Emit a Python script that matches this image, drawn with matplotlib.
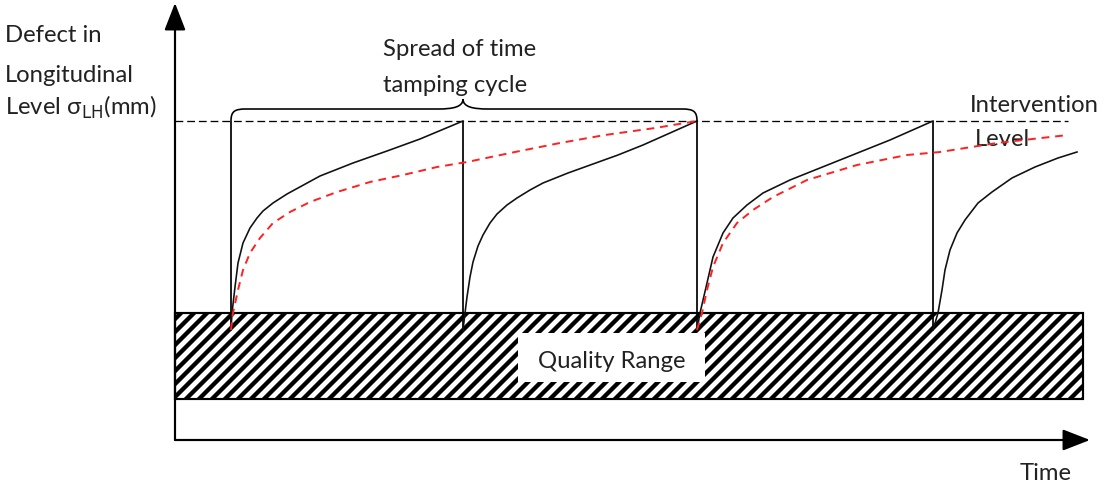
import matplotlib
matplotlib.use("Agg")
import matplotlib.pyplot as plt
from matplotlib.patches import Rectangle, PathPatch
from matplotlib.path import Path

# time measured from the vertical axis, defect level measured from the time axis
tamping_times = [56, 288, 522, 758]
intervention_level = 319
reset_level = 110
quality_low, quality_high = 41, 127
time_end = 908

# black curves: deterioration after each tamping
black_t = [
    [56, 57, 60, 63, 68, 75, 82, 88, 98, 112, 145, 178, 212, 245, 288],
    [288, 290, 292, 295, 298, 303, 308, 315, 322, 332, 342, 355, 368, 393, 418, 443, 468, 495, 522],
    [522, 525, 532, 538, 548, 558, 572, 588, 615, 665, 715, 758],
    [758, 763, 767, 770, 775, 782, 790, 803, 817, 837, 860, 883, 902],
]
black_lvl = [
    [110, 127, 153, 177, 197, 212, 222, 229, 237, 246, 264, 277, 289, 301, 319],
    [110, 127, 143, 163, 178, 194, 205, 217, 226, 235, 242, 250, 257, 267, 276, 285, 295, 307, 319],
    [110, 127, 157, 183, 207, 222, 235, 247, 260, 280, 300, 319],
    [110, 127, 150, 170, 190, 207, 220, 237, 248, 262, 273, 282, 288],
]

# red dashed curves: slower deterioration
red_t = [
    [56, 58, 63, 68, 75, 85, 98, 115, 135, 162, 195, 228, 262, 292, 340, 385, 430, 480, 522],
    [522, 527, 532, 538, 548, 562, 578, 598, 632, 682, 732, 765, 822, 893],
]
red_lvl = [
    [110, 127, 150, 170, 187, 202, 217, 228, 238, 248, 258, 265, 273, 278, 288, 297, 305, 312, 319],
    [110, 127, 150, 173, 197, 217, 230, 243, 260, 275, 285, 288, 297, 305],
]

DPI = 156
plt.rcParams['font.family'] = ['Lato', 'DejaVu Sans']
plt.rcParams['hatch.linewidth'] = 2.0
fig = plt.figure(figsize=(1104 / DPI, 486 / DPI), dpi=DPI)
ax = fig.add_axes([0, 0, 1, 1])
ax.set_xlim(-175, 929)
ax.set_ylim(-46, 440)
ax.axis('off')

# quality range band
ax.add_patch(Rectangle((0, quality_low), time_end, quality_high - quality_low,
                       facecolor='white', edgecolor='black', hatch='////', lw=1.0, zorder=1))
ax.add_patch(Rectangle((343, 58), 187, 49, facecolor='white', edgecolor='none', zorder=2))
ax.text(437, 79, "Quality Range", ha='center', va='center', fontsize=11, color='#222222', zorder=3)

# axes arrows
arrow = dict(arrowstyle='-|>,head_length=0.9,head_width=0.35', color='black', lw=1.0,
             shrinkA=0, shrinkB=0, mutation_scale=12)
ax.annotate('', xy=(0, 437), xytext=(0, 0), arrowprops=arrow, zorder=3)
ax.annotate('', xy=(915, 0), xytext=(0, 0), arrowprops=arrow, zorder=3)

# intervention level
ax.plot([0, 893], [intervention_level, intervention_level], color='black', lw=0.6,
        dashes=(6, 3), zorder=3)

# tamping drops
ax.vlines(tamping_times, reset_level, intervention_level, color='black', lw=0.8, zorder=4)

for t, lv in zip(black_t, black_lvl):
    ax.plot(t, lv, color='#111111', lw=0.75, zorder=4)
for t, lv in zip(red_t, red_lvl):
    ax.plot(t, lv, color='#ff2020', lw=0.9, dashes=(4, 3), zorder=5)

# brace over the tamping cycles
t0, tm, t2 = tamping_times[0], tamping_times[1], tamping_times[2]
L = intervention_level
verts = [(t0, L), (t0, L + 10), (t0 + 4, L + 12), (t0 + 15, L + 12),
         (tm - 25, L + 12),
         (tm - 10, L + 12), (tm, L + 14), (tm, L + 22),
         (tm, L + 14), (tm + 10, L + 12), (tm + 25, L + 12),
         (t2 - 15, L + 12),
         (t2 - 4, L + 12), (t2, L + 10), (t2, L)]
codes = [Path.MOVETO, Path.CURVE4, Path.CURVE4, Path.CURVE4,
         Path.LINETO,
         Path.CURVE4, Path.CURVE4, Path.CURVE4,
         Path.CURVE4, Path.CURVE4, Path.CURVE4,
         Path.LINETO,
         Path.CURVE4, Path.CURVE4, Path.CURVE4]
ax.add_patch(PathPatch(Path(verts, codes), fc='none', ec='black', lw=0.75, zorder=4))

txt = dict(fontsize=11, color='#222222', va='center', ha='left')
ax.text(208, 390, "Spread of time", **txt)
ax.text(208, 355, "tamping cycle", **txt)
ax.text(-170, 405, "Defect in", **txt)
ax.text(-170, 365, "Longitudinal", **txt)
ax.text(-170, 333, r"Level σ$_{\mathrm{LH}}$(mm)", **txt)
ax.text(795, 335, "Intervention", **txt)
ax.text(800, 300, "Level", **txt)
ax.text(845, -33, "Time", **txt)

fig.savefig("out.png", dpi=DPI)
